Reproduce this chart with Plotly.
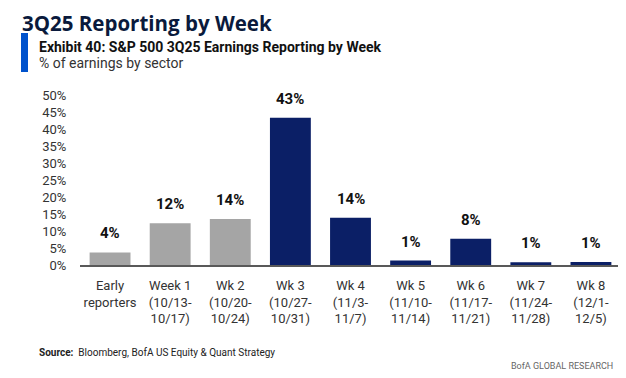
import plotly.graph_objects as go

categories = ["Early<br>reporters", "Week 1<br>(10/13-<br>10/17)", "Wk 2<br>(10/20-<br>10/24)",
              "Wk 3<br>(10/27-<br>10/31)", "Wk 4<br>(11/3-<br>11/7)", "Wk 5<br>(11/10-<br>11/14)",
              "Wk 6<br>(11/17-<br>11/21)", "Wk 7<br>(11/24-<br>11/28)", "Wk 8<br>(12/1-<br>12/5)"]
values = [3.7, 12.3, 13.5, 43.3, 13.9, 1.3, 7.7, 0.8, 0.9]
labels = ["4%", "12%", "14%", "43%", "14%", "1%", "8%", "1%", "1%"]
reported = [True, True, True, False, False, False, False, False, False]
tick_vals = [0, 5, 10, 15, 20, 25, 30, 35, 40, 45, 50]
tick_text = [f"{v}%" for v in tick_vals]

GRAY = "#A5A5A5"
NAVY = "#0B1F66"
colors = [GRAY if r else NAVY for r in reported]
FONT = "Roboto, Arial"

fig = go.Figure()
fig.add_trace(go.Bar(x=categories, y=values, marker=dict(color=colors, line=dict(width=0)),
                     hoverinfo="skip"))

for c, v, t in zip(categories, values, labels):
    fig.add_annotation(x=c, y=v, text=f"<b>{t}</b>", showarrow=False, yanchor="bottom",
                       yshift=8, font=dict(family=FONT, size=15, color="#111111"))

fig.update_layout(
    width=618, height=370,
    margin=dict(l=72, r=5, t=87, b=113),
    paper_bgcolor="white", plot_bgcolor="white",
    showlegend=False, bargap=0.32,
    font=dict(family=FONT, size=13, color="#333333"),
)
fig.update_xaxes(showline=True, linecolor="#595959", linewidth=2, showgrid=False,
                 ticks="outside", ticklen=7, tickcolor="rgba(0,0,0,0)",
                 tickfont=dict(family=FONT, size=13, color="#333333"))
fig.update_yaxes(range=[0, 50], tickvals=tick_vals, ticktext=tick_text, showgrid=False,
                 zeroline=False, showline=False, ticks="outside", ticklen=10,
                 tickcolor="rgba(0,0,0,0)",
                 tickfont=dict(family=FONT, size=13, color="#333333"))

# Header
fig.add_annotation(xref="paper", yref="paper", x=0, y=1.0, xanchor="left", yanchor="middle",
                   xshift=-59, yshift=72.5, borderpad=0, text="<b>3Q25 Reporting by Week</b>",
                   showarrow=False,
                   font=dict(family="Open Sans, Roboto", size=20.5, color="#0A1A3C"))
fig.add_shape(type="rect", xref="paper", yref="paper",
              xsizemode="pixel", xanchor=0, x0=-59, x1=-52,
              ysizemode="pixel", yanchor=1, y0=23, y1=62,
              line=dict(width=0), fillcolor="#0052CC", layer="above")
fig.add_annotation(xref="paper", yref="paper", x=0, y=1.0, xanchor="left", yanchor="middle",
                   xshift=-43, yshift=48.3,
                   text="<b>Exhibit 40: S&P 500 3Q25 Earnings Reporting by Week</b>",
                   showarrow=False, font=dict(family=FONT, size=14, color="#111111"))
fig.add_annotation(xref="paper", yref="paper", x=0, y=1.0, xanchor="left", yanchor="middle",
                   xshift=-43, yshift=31.7, text="% of earnings by sector",
                   showarrow=False, font=dict(family=FONT, size=14, color="#333333"))
fig.add_annotation(xref="paper", yref="paper", x=0, y=0.0, xanchor="left", yanchor="middle",
                   xshift=-43, yshift=-87.7,
                   text="<b>Source:</b>  Bloomberg, BofA US Equity & Quant Strategy",
                   showarrow=False, font=dict(family=FONT, size=10, color="#222222"))
fig.add_annotation(xref="paper", yref="paper", x=1, y=0.0, xanchor="right", yanchor="middle",
                   xshift=-6, yshift=-100.7, text="BofA GLOBAL RESEARCH",
                   showarrow=False, font=dict(family=FONT, size=9, color="#666666"))

fig.write_html("out.html")
